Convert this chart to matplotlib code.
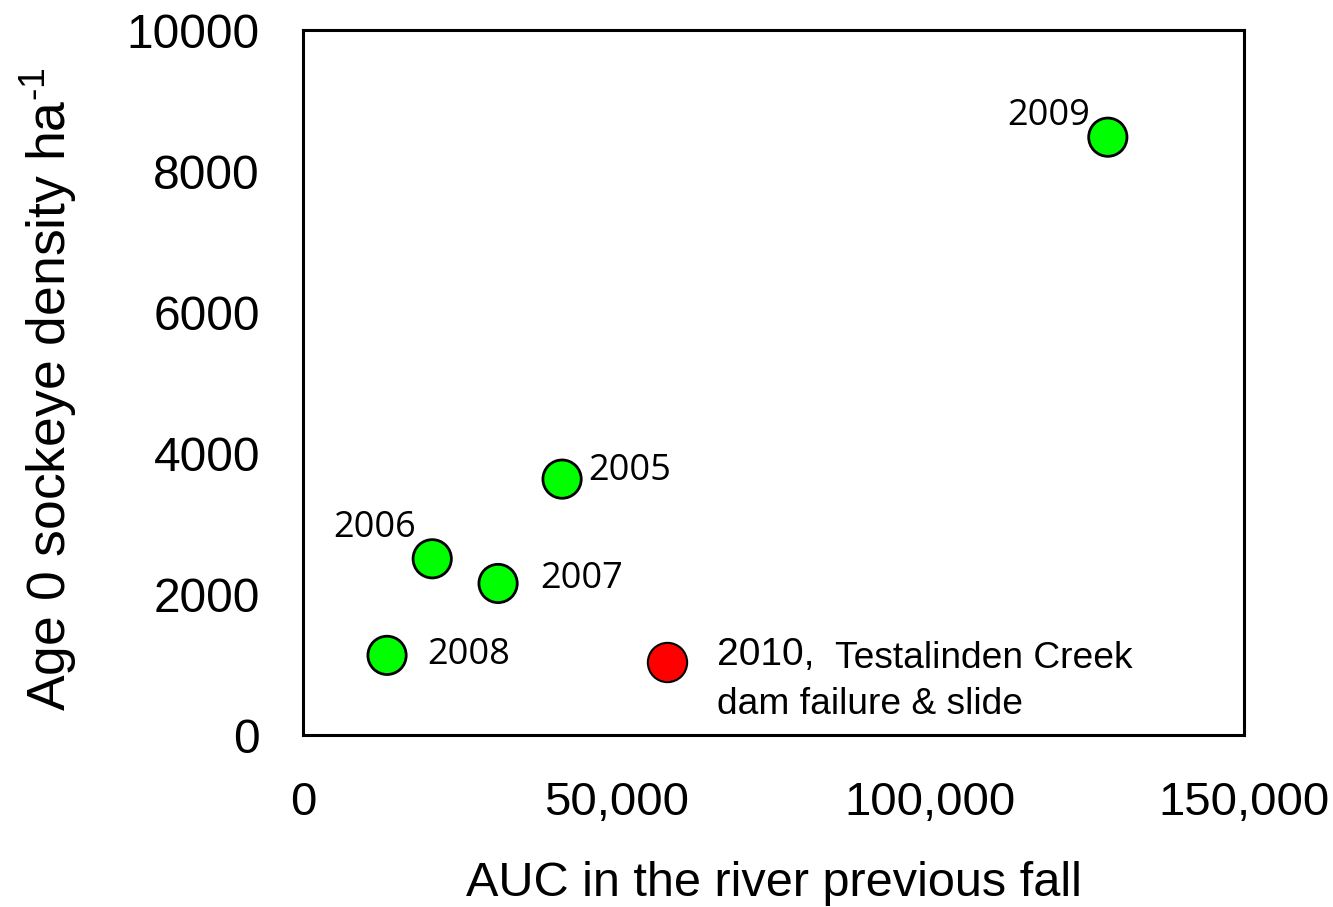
import matplotlib
matplotlib.use("Agg")
import matplotlib.pyplot as plt

years = ["2005", "2006", "2007", "2008", "2009", "2010"]
auc = [41300, 20600, 31100, 13400, 128300, 58000]
density = [3630, 2500, 2150, 1130, 8480, 1030]
colors = ["#00FF00", "#00FF00", "#00FF00", "#00FF00", "#00FF00", "#FF0000"]

x_ticks = [0, 50000, 100000, 150000]
x_ticklabels = ["0", "50,000", "100,000", "150,000"]
y_ticks = [0, 2000, 4000, 6000, 8000, 10000]
y_ticklabels = ["0", "2000", "4000", "6000", "8000", "10000"]

plt.rcParams['font.family'] = ['Liberation Sans', 'DejaVu Sans']
plt.rcParams['mathtext.fontset'] = 'custom'
plt.rcParams['mathtext.rm'] = 'Liberation Sans'
plt.rcParams['mathtext.it'] = 'Liberation Sans'
plt.rcParams['mathtext.sf'] = 'Liberation Sans'
plt.rcParams['mathtext.default'] = 'regular'

fig = plt.figure(figsize=(13.33, 9.07), dpi=100)
ax = fig.add_axes([0.2273, 0.1896, 0.7059, 0.7773])

ax.scatter(auc[:5], density[:5], s=760, c=colors[:5], edgecolors="black", linewidths=2, zorder=3)
ax.scatter(auc[5:], density[5:], s=800, c=colors[5:], edgecolors="black", linewidths=1.5, zorder=3)

ax.set_xlim(0, 150000)
ax.set_ylim(0, 10000)
ax.set_xticks(x_ticks)
ax.set_xticklabels(x_ticklabels)
ax.set_yticks(y_ticks)
ax.set_yticklabels(y_ticklabels)
ax.tick_params(axis="both", length=0, labelsize=34.5)
ax.tick_params(axis="x", labelsize=34, pad=33)
ax.tick_params(axis="y", pad=31)
for s in ax.spines.values():
    s.set_linewidth(2.2)
    s.set_color("black")

ax.set_xlabel("AUC in the river previous fall", fontsize=35, labelpad=26)
ax.set_ylabel("Age 0 sockeye density ha$^{\\text{-1}}$", fontsize=38.5)
ax.yaxis.set_label_coords(-0.238, 0.49)

label_font = ['Open Sans', 'DejaVu Sans']
offsets = {
    "2005": ((19, 6), "left"),
    "2006": ((-12, 22), "right"),
    "2007": ((30, 3), "left"),
    "2008": ((29, 0), "left"),
    "2009": ((-13, 15), "right"),
}
for yr, xv, yv in zip(years, auc, density):
    if yr in offsets:
        off, ha = offsets[yr]
        ax.annotate(yr, (xv, yv), xytext=off, textcoords="offset points",
                    ha=ha, va="center", fontsize=26, family=label_font)

ax.annotate(years[5] + ",", (auc[5], density[5]), xytext=(36, 5), textcoords="offset points",
            ha="left", va="center", fontsize=28)
ax.annotate("Testalinden Creek", (auc[5], density[5]), xytext=(121, 3), textcoords="offset points",
            ha="left", va="center", fontsize=26.7)
ax.annotate("dam failure & slide", (auc[5], density[5]), xytext=(36, -30), textcoords="offset points",
            ha="left", va="center", fontsize=26.7)

fig.savefig("out.png", dpi=100)
